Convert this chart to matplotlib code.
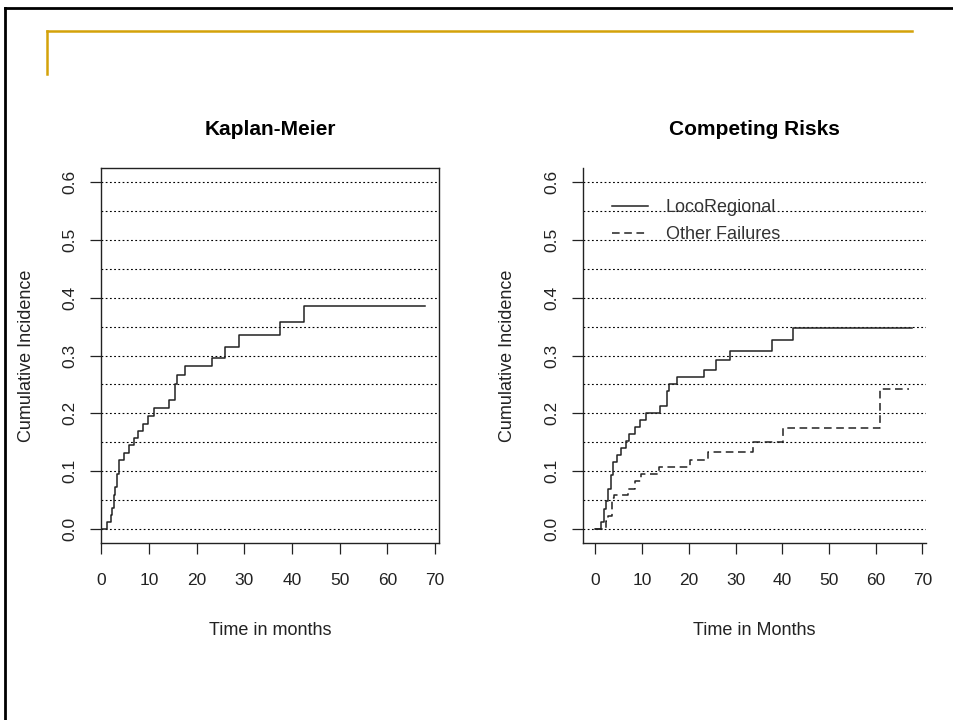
import matplotlib
matplotlib.use("Agg")
import matplotlib.pyplot as plt
from matplotlib.lines import Line2D

plt.rcParams["font.family"] = ["Liberation Sans", "DejaVu Sans"]

# Kaplan-Meier cumulative incidence (1 - KM), step times in months
km_time = [0, 1.2, 2.0, 2.2, 2.7, 2.95, 3.3, 3.8, 4.85, 5.9, 6.85, 7.75, 8.8,
           9.85, 11.1, 14.1, 15.45, 15.85, 17.65, 23.2, 25.9, 28.9, 37.5, 42.6, 68]
km_ci = [0, 0.012, 0.024, 0.036, 0.059, 0.072, 0.095, 0.12, 0.132, 0.145, 0.157,
         0.17, 0.182, 0.195, 0.209, 0.223, 0.251, 0.266, 0.281, 0.295, 0.314,
         0.336, 0.358, 0.385, 0.385]

# Competing risks: loco-regional failure
lr_time = [0, 1.25, 1.8, 2.3, 2.75, 3.25, 3.7, 4.55, 5.55, 6.45, 7.15, 8.55,
           9.6, 10.9, 13.75, 15.35, 15.85, 17.45, 23.2, 25.8, 28.85, 37.7, 42.3, 67.8]
lr_ci = [0, 0.012, 0.034, 0.048, 0.069, 0.094, 0.116, 0.128, 0.14, 0.152, 0.164,
         0.176, 0.188, 0.2, 0.212, 0.238, 0.25, 0.263, 0.275, 0.292, 0.308,
         0.327, 0.348, 0.348]

# Competing risks: other failures
of_time = [0, 2.2, 2.8, 3.5, 3.9, 6.9, 8.4, 9.85, 13.6, 20.3, 24.0, 33.8, 40.1, 60.9, 67.1]
of_ci = [0, 0.013, 0.023, 0.053, 0.058, 0.069, 0.082, 0.095, 0.107, 0.12, 0.133,
         0.151, 0.174, 0.242, 0.242]

grid_levels = [i * 0.05 for i in range(13)]
y_ticks = [0.0, 0.1, 0.2, 0.3, 0.4, 0.5, 0.6]
x_ticks = [0, 10, 20, 30, 40, 50, 60, 70]

W, H = 954, 720
fig = plt.figure(figsize=(W / 100, H / 100), dpi=100)
fig.patch.set_facecolor("white")


def fx(px):
    return px / W


def fy(py):
    return 1 - py / H


# slide frame and gold accent
fig.add_artist(Line2D([fx(5), fx(5)], [fy(8), 0], color="black", lw=2))
fig.add_artist(Line2D([fx(5), 1], [fy(8), fy(8)], color="black", lw=2))
gold = "#D4A20A"
fig.add_artist(Line2D([fx(47), fx(912)], [fy(31), fy(31)], color=gold, lw=1.8))
fig.add_artist(Line2D([fx(47), fx(47)], [fy(31), fy(74)], color=gold, lw=1.8))

ink = "#222222"
ax1 = fig.add_axes([fx(101.3), fy(542.7), fx(439.3 - 101.3), (542.7 - 168.3) / H])
ax2 = fig.add_axes([fx(582.7), fy(542.7), fx(925.8 - 582.7), (542.7 - 168.3) / H])


def style(ax, title, xlabel, xlim, box):
    ax.set_xlim(*xlim)
    ax.set_ylim(-0.024, 0.624)
    for g in grid_levels:
        ax.axhline(g, color="black", lw=0.8, linestyle=(0, (1.6, 2.2)), zorder=1)
    ax.set_xticks(x_ticks)
    ax.set_yticks(y_ticks)
    ax.set_yticklabels([f"{v:.1f}" for v in y_ticks], rotation=90, va="center")
    ax.tick_params(axis="both", direction="out", length=8, width=0.9,
                   labelsize=12.5, colors=ink)
    ax.tick_params(axis="x", pad=14)
    ax.tick_params(axis="y", pad=9)
    for s in ax.spines.values():
        s.set_linewidth(1.0)
        s.set_color(ink)
    if not box:
        ax.spines["top"].set_visible(False)
        ax.spines["right"].set_visible(False)
    ax.set_title(title, fontsize=15, fontweight="bold", pad=24)
    ax.set_xlabel(xlabel, fontsize=13, color=ink, labelpad=24)
    ax.set_ylabel("Cumulative Incidence", fontsize=13, color=ink, labelpad=20)


style(ax1, "Kaplan-Meier", "Time in months", (0, 70.9), True)
ax1.step(km_time, km_ci, where="post", color=ink, lw=1.1, zorder=3)

style(ax2, "Competing Risks", "Time in Months", (-2.72, 70.72), False)
ax2.step(lr_time, lr_ci, where="post", color=ink, lw=1.1, zorder=3,
         label="LocoRegional")
ax2.step(of_time, of_ci, where="post", color=ink, lw=1.1, zorder=3,
         linestyle=(0, (5, 3)), label="Other Failures")
leg = ax2.legend(loc="upper left", bbox_to_anchor=(0.084, 0.917), frameon=False,
                 fontsize=13, handlelength=2.0, handletextpad=1.0,
                 labelspacing=0.53, borderpad=0, borderaxespad=0)
for t in leg.get_texts():
    t.set_color("#333333")

fig.savefig("out.png", dpi=100)
